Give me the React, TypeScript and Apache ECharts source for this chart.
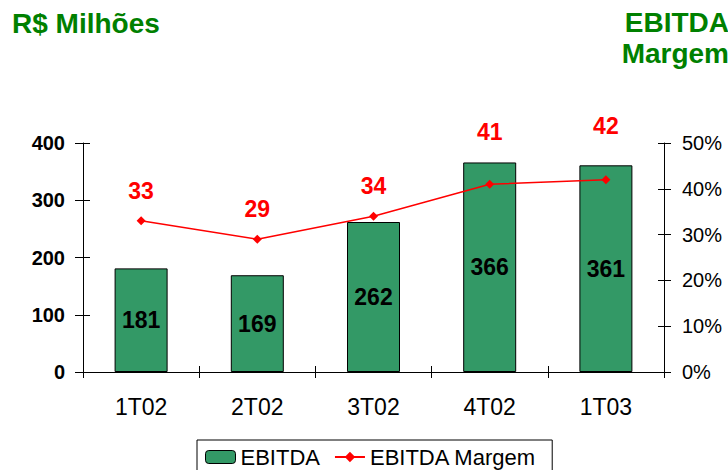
import React, { useEffect, useRef } from "react";
import * as echarts from "echarts";

const categories = ["1T02", "2T02", "3T02", "4T02", "1T03"];
const ebitda = [181, 169, 262, 366, 361];
const margem = [33, 29, 34, 41, 42];
const leftTicks = [0, 100, 200, 300, 400];
const rightTicks = [0, 10, 20, 30, 40, 50];
// label distance above each margin point (the last two labels sit above the bars)
const margemLabelGap = [14, 14, 14, 36, 38];

const FONT = "'Liberation Sans', Arial, sans-serif";

export default function App() {
  const ref = useRef<HTMLDivElement>(null);
  useEffect(() => {
    if (!ref.current) return;
    const chart = echarts.init(ref.current, null, { renderer: "svg" });
    const grid = { left: 83, right: 64, top: 143, bottom: 98 };
    chart.setOption({
      animation: false,
      textStyle: { fontFamily: FONT },
      grid,
      title: {
        text: "R$ Milhões",
        left: 7,
        top: 4,
        textStyle: { fontSize: 28, fontWeight: "bold", color: "#008000", fontFamily: FONT },
      },
      graphic: [
        {
          type: "text",
          right: -1,
          top: 7,
          style: {
            text: "EBITDA\nMargem",
            fill: "#008000",
            font: `bold 28px ${FONT}`,
            lineHeight: 31,
            textAlign: "right",
          },
        },
      ],
      legend: {
        left: 197,
        top: 440,
        borderColor: "#000",
        borderWidth: 1,
        borderRadius: 0,
        padding: [6, 16, 10, 8],
        itemGap: 14,
        itemWidth: 30,
        itemHeight: 13,
        textStyle: { fontSize: 22, color: "#000", fontFamily: FONT },
        data: [
          { name: "EBITDA", itemStyle: { color: "#339966", borderColor: "#000", borderWidth: 1 } },
          { name: "EBITDA Margem" },
        ],
      },
      xAxis: [
        {
          type: "category",
          data: categories,
          axisLine: { lineStyle: { color: "#000", width: 1 } },
          axisTick: { show: true, length: 6, lineStyle: { color: "#000" } },
          axisLabel: { fontSize: 23, color: "#000", margin: 23, fontFamily: FONT },
        },
        {
          type: "category",
          data: categories,
          position: "bottom",
          axisLine: { show: false },
          axisTick: { show: true, inside: true, length: 6, lineStyle: { color: "#000" } },
          axisLabel: { show: false },
        },
      ],
      yAxis: [
        {
          type: "value",
          min: 0,
          max: 400,
          interval: 100,
          position: "left",
          splitLine: { show: false },
          axisLine: { show: true, lineStyle: { color: "#000" } },
          axisTick: { show: true, length: 8, lineStyle: { color: "#000" } },
          axisLabel: {
            fontSize: 20,
            fontWeight: "bold",
            color: "#000",
            margin: 18,
            fontFamily: FONT,
            formatter: (v: number) => (leftTicks.includes(v) ? String(v) : ""),
          },
        },
        {
          type: "value",
          min: 0,
          max: 50,
          interval: 10,
          position: "right",
          splitLine: { show: false },
          axisLine: { show: true, lineStyle: { color: "#000" } },
          axisTick: { show: true, length: 7, lineStyle: { color: "#000" } },
          axisLabel: {
            fontSize: 20,
            color: "#000",
            margin: 18,
            fontFamily: FONT,
            formatter: (v: number) => (rightTicks.includes(v) ? `${v}%` : ""),
          },
        },
        {
          type: "value",
          min: 0,
          max: 400,
          interval: 100,
          position: "left",
          splitLine: { show: false },
          axisLine: { show: false },
          axisTick: { show: true, inside: true, length: 7, lineStyle: { color: "#000" } },
          axisLabel: { show: false },
        },
        {
          type: "value",
          min: 0,
          max: 50,
          interval: 10,
          position: "right",
          splitLine: { show: false },
          axisLine: { show: false },
          axisTick: { show: true, inside: true, length: 6, lineStyle: { color: "#000" } },
          axisLabel: { show: false },
        },
      ],
      series: [
        {
          name: "EBITDA",
          type: "bar",
          data: ebitda,
          yAxisIndex: 0,
          barWidth: 53,
          itemStyle: { color: "#339966", borderColor: "#000", borderWidth: 1 },
          label: {
            show: true,
            position: "inside",
            fontSize: 23,
            fontWeight: "bold",
            color: "#000",
            fontFamily: FONT,
          },
        },
        {
          name: "EBITDA Margem",
          type: "line",
          data: margem.map((v, i) => ({ value: v, label: { distance: margemLabelGap[i] } })),
          yAxisIndex: 1,
          symbol: "diamond",
          symbolSize: 9,
          color: "#ff0000",
          lineStyle: { color: "#ff0000", width: 1.5 },
          itemStyle: { color: "#ff0000" },
          label: {
            show: true,
            position: "top",
            distance: 14,
            fontSize: 23,
            fontWeight: "bold",
            color: "#ff0000",
            fontFamily: FONT,
          },
          z: 5,
        },
      ],
    });
    return () => chart.dispose();
  }, []);
  return (
    <div
      ref={ref}
      style={{ position: "fixed", left: 0, top: 0, width: 728, height: 470, background: "#fff" }}
    />
  );
}
